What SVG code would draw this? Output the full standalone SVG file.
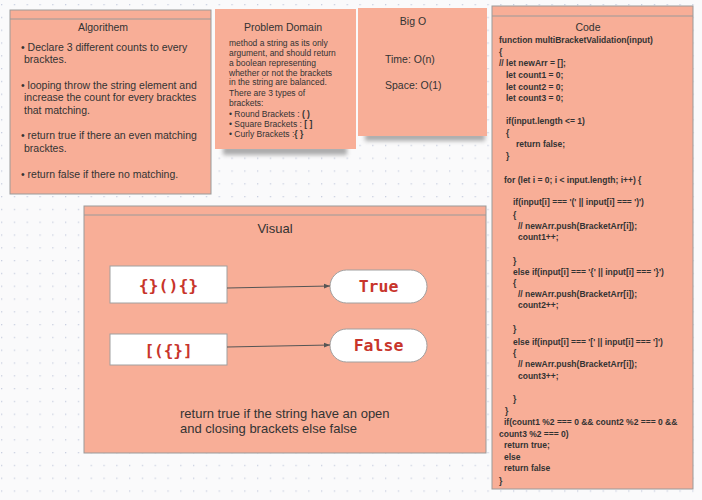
<svg xmlns="http://www.w3.org/2000/svg" width="702" height="500" viewBox="0 0 702 500">
<defs>
<pattern id="grid" x="1" y="4" width="12.8" height="12.8" patternUnits="userSpaceOnUse">
<rect x="0" y="0" width="1.3" height="1.3" fill="#c9cfe0"/>
</pattern>
<filter id="blur" x="-20%" y="-200%" width="140%" height="500%">
<feGaussianBlur stdDeviation="2"/>
</filter>
<marker id="arr" viewBox="0 0 10 10" refX="10" refY="5" markerWidth="6" markerHeight="6" orient="auto" markerUnits="userSpaceOnUse">
<path d="M0,1 L10,5 L0,9 Z" fill="#555"/>
</marker>
<style>
.box{fill:#F8AE97;stroke:#9a9a9a;stroke-width:1}
.plain{fill:#F8AE97}
.shadow{fill:#6a6a6a;opacity:0.55;filter:url(#blur)}
.t{font-family:"Liberation Sans",Arial,sans-serif;fill:#333}
.title{font-size:10.5px;text-anchor:middle}
.body{font-size:10.5px}
.pd{font-size:8.5px}
.code{font-size:8.5px;font-weight:bold;fill:#333}
.mono{font-family:"DejaVu Sans Mono","Liberation Mono",monospace;font-weight:bold;fill:#C8352B;text-anchor:middle}
.wbox{fill:#fff;stroke:#a0a0a0;stroke-width:1}
.conn{stroke:#555;stroke-width:1;fill:none}
</style>
</defs>
<rect width="702" height="500" fill="#fafafb"/>
<rect width="702" height="500" fill="url(#grid)"/>

<g id="algorithm">
<rect class="box" x="10" y="10" width="201" height="184"/>
<line x1="10" y1="19" x2="211" y2="19" stroke="#9a9a9a"/>
<text class="t title" x="103" y="30.5">Algorithem</text>
<g class="t body">
<text x="21" y="50.5">• Declare 3 different counts to every</text>
<text x="24" y="63.2">bracktes.</text>
<text x="21" y="88.6">• looping throw the string element and</text>
<text x="24" y="101.3">increase the count for every bracktes</text>
<text x="24" y="114">that matching.</text>
<text x="21" y="139.4">• return true if there an even matching</text>
<text x="24" y="152.1">bracktes.</text>
<text x="21" y="177.5">• return false if there no matching.</text>
</g>
</g>

<g id="problem-domain">
<rect class="shadow" x="223" y="146" width="124" height="9"/>
<rect class="plain" x="215" y="9" width="141" height="140"/>
<text class="t title" x="283" y="30.5">Problem Domain</text>
<g class="t pd">
<text x="229" y="45.7">method a string as its only</text>
<text x="229" y="55.7">argument, and should return</text>
<text x="229" y="65.7">a boolean representing</text>
<text x="229" y="75.7">whether or not the brackets</text>
<text x="229" y="85.3">in the string are balanced.</text>
<text x="229" y="95.7">There are 3 types of</text>
<text x="229" y="105.7">brackets:</text>
<text x="229" y="117">• Round Brackets : <tspan font-weight="bold">( )</tspan></text>
<text x="229" y="127">• Square Brackets : <tspan font-weight="bold">[ ]</tspan></text>
<text x="229" y="137.3">• Curly Brackets :<tspan font-weight="bold">{ }</tspan></text>
</g>
</g>

<g id="big-o">
<rect class="shadow" x="365" y="133" width="120" height="8"/>
<rect class="plain" x="358" y="8" width="129" height="128"/>
<text class="t title" x="413" y="25">Big O</text>
<text class="t body" x="385" y="63">Time: O(n)</text>
<text class="t body" x="385" y="89">Space: O(1)</text>
</g>

<g id="code">
<rect class="box" x="492" y="6" width="201" height="483"/>
<line x1="492" y1="16" x2="693" y2="16" stroke="#9a9a9a"/>
<text class="t title" x="588" y="31">Code</text>
<g class="t code">
<text x="499" y="43">function multiBracketValidation(input)</text>
<text x="499" y="55">{</text>
<text x="499" y="66">// let newArr = [];</text>
<text x="506" y="78">let count1 = 0;</text>
<text x="506" y="89.5">let count2 = 0;</text>
<text x="506" y="101">let count3 = 0;</text>
<text x="506" y="124">if(input.length &lt;= 1)</text>
<text x="506" y="136">{</text>
<text x="516" y="147">return false;</text>
<text x="506" y="158.5">}</text>
<text x="504" y="183">for (let i = 0; i &lt; input.length; i++) {</text>
<text x="513" y="205">if(input[i] === '(' || input[i] === ')')</text>
<text x="513" y="218">{</text>
<text x="518" y="229">// newArr.push(BracketArr[i]);</text>
<text x="518" y="240">count1++;</text>
<text x="513" y="264">}</text>
<text x="513" y="275">else if(input[i] === '{' || input[i] === '}')</text>
<text x="513" y="286">{</text>
<text x="518" y="297">// newArr.push(BracketArr[i]);</text>
<text x="518" y="308">count2++;</text>
<text x="513" y="332">}</text>
<text x="513" y="345">else if(input[i] === '[' || input[i] === ']')</text>
<text x="513" y="356">{</text>
<text x="518" y="367">// newArr.push(BracketArr[i]);</text>
<text x="518" y="379">count3++;</text>
<text x="513" y="402">}</text>
<text x="505" y="414">}</text>
<text x="504" y="425">if(count1 %2 === 0 &amp;&amp; count2 %2 === 0 &amp;&amp;</text>
<text x="499" y="437">count3 %2 === 0)</text>
<text x="504" y="448">return true;</text>
<text x="504" y="460">else</text>
<text x="504" y="471">return false</text>
<text x="499" y="484">}</text>
</g>
</g>

<g id="visual">
<rect class="box" x="84" y="206" width="402" height="247"/>
<line x1="84" y1="215" x2="486" y2="215" stroke="#9a9a9a"/>
<text class="t" x="275" y="232.5" font-size="13" text-anchor="middle">Visual</text>
<text class="t" x="180" y="418" font-size="13">return true if the string have an open</text>
<text class="t" x="180" y="433" font-size="13">and closing brackets else false</text>
</g>

<g id="input1">
<rect class="wbox" x="110" y="266" width="117" height="37"/>
<text class="mono" x="168.5" y="291" font-size="16.5">{}(){}</text>
</g>
<g id="input2">
<rect class="wbox" x="110" y="334" width="117" height="31"/>
<text class="mono" x="168.5" y="356" font-size="16">[({}]</text>
</g>
<g id="true">
<rect class="wbox" x="330" y="270" width="97" height="33" rx="16.5" ry="16.5"/>
<text class="mono" x="378.5" y="292" font-size="16.5">True</text>
</g>
<g id="false">
<rect class="wbox" x="330" y="329" width="97" height="33" rx="16.5" ry="16.5"/>
<text class="mono" x="378.5" y="351" font-size="16.5">False</text>
</g>

<g id="connectors">
<line class="conn" x1="227" y1="288" x2="330" y2="286" marker-end="url(#arr)"/>
<line class="conn" x1="227" y1="347" x2="330" y2="345" marker-end="url(#arr)"/>
</g>
</svg>
